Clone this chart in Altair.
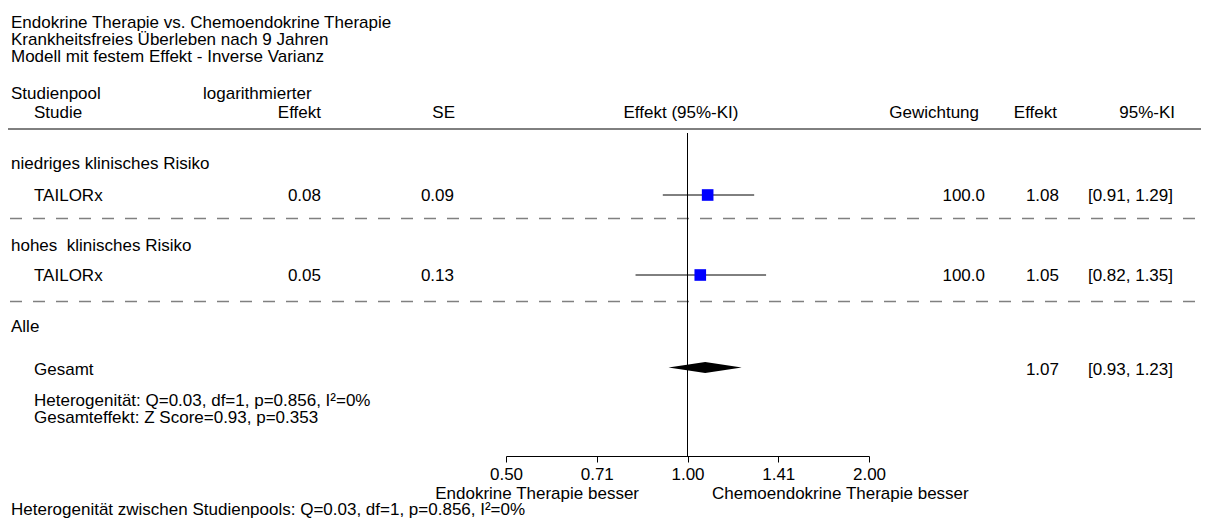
import altair as alt
import pandas as pd

# ---------------- data ----------------
TITLE_LINES = [
    "Endokrine Therapie vs. Chemoendokrine Therapie",
    "Krankheitsfreies Überleben nach 9 Jahren",
    "Modell mit festem Effekt - Inverse Varianz",
]
POOLS = ["niedriges klinisches Risiko", "hohes\u00a0 klinisches Risiko"]
STUDIES = ["TAILORx", "TAILORx"]
LOG_EFFECT = [0.08, 0.05]
SE = [0.09, 0.13]
EFFECT = [1.08, 1.05]
CI_LOW = [0.91, 0.82]
CI_HIGH = [1.29, 1.35]
WEIGHT = [100.0, 100.0]

ALL_LABEL = "Alle"
OVERALL_LABEL = "Gesamt"
OVERALL_EFFECT = [1.07]
OVERALL_LOW = [0.93]
OVERALL_HIGH = [1.23]
HET_TEXT = "Heterogenität: Q=0.03, df=1, p=0.856, I²=0%"
OVERALL_TEXT = "Gesamteffekt: Z Score=0.93, p=0.353"
BETWEEN_TEXT = "Heterogenität zwischen Studienpools: Q=0.03, df=1, p=0.856, I²=0%"

TICKS = [0.5, 0.7071, 1.0, 1.4142, 2.0]
LEFT_LABEL = "Endokrine Therapie besser"
RIGHT_LABEL = "Chemoendokrine Therapie besser"

# ---------------- layout ----------------
W, H = 1193, 510
FONT = "Liberation Sans"
FS = 17
X_RANGE = [498, 861]
AXIS_Y = 448
POOL_Y = [156, 238]
STUDY_Y = [187, 267]
DASH_Y = [210.5, 293.5]
ALL_Y = 319
OVERALL_Y = 359.5
DIAMOND_HALF = 5.5

xscale = alt.Scale(type="log", base=2, domain=[0.5, 2.0], range=X_RANGE, nice=False)
xaxis = alt.Axis(
    values=TICKS, format=".2f", title=None, grid=False,
    domainColor="black", domainWidth=1, tickColor="black", tickWidth=1, tickSize=6,
    labelFont=FONT, labelFontSize=FS, labelColor="black", labelPadding=4,
    labelFlush=False, labelOverlap=False, offset=AXIS_Y - H,
)

ONE = alt.Data(values=[{}])


def txt(s, x, y, align="left"):
    return alt.Chart(ONE).mark_text(
        text=s, align=align, baseline="middle", font=FONT, fontSize=FS, color="black"
    ).encode(x=alt.value(x), y=alt.value(y))


layers = []

for i, line in enumerate(TITLE_LINES):
    layers.append(txt(line, 3, 15 + 17 * i))

layers += [
    txt("Studienpool", 3, 86),
    txt("Studie", 26, 105),
    txt("logarithmierter", 195, 86),
    txt("Effekt", 313, 105, "right"),
    txt("SE", 447, 105, "right"),
    txt("Effekt (95%-KI)", 673, 105, "center"),
    txt("Gewichtung", 971, 105, "right"),
    txt("Effekt", 1049, 105, "right"),
    txt("95%-KI", 1167, 105, "right"),
]

layers.append(
    alt.Chart(ONE).mark_rule(color="black", strokeWidth=1).encode(
        x=alt.value(0), x2=alt.value(W), y=alt.value(121)
    )
)
for dy in DASH_Y:
    layers.append(
        alt.Chart(ONE).mark_rule(color="#808080", strokeWidth=1.5, strokeDash=[12, 11]).encode(
            x=alt.value(2), x2=alt.value(W), y=alt.value(dy)
        )
    )

for i in range(len(STUDIES)):
    ty = STUDY_Y[i] + 1
    layers += [
        txt(POOLS[i], 3, POOL_Y[i]),
        txt(STUDIES[i], 26, ty),
        txt(f"{LOG_EFFECT[i]:.2f}", 313, ty, "right"),
        txt(f"{SE[i]:.2f}", 446, ty, "right"),
        txt(f"{WEIGHT[i]:.1f}", 977, ty, "right"),
        txt(f"{EFFECT[i]:.2f}", 1051, ty, "right"),
        txt(f"[{CI_LOW[i]:.2f}, {CI_HIGH[i]:.2f}]", 1165, ty, "right"),
    ]

layers += [
    txt(ALL_LABEL, 3, ALL_Y),
    txt(OVERALL_LABEL, 26, 362),
    txt(f"{OVERALL_EFFECT[0]:.2f}", 1051, 362, "right"),
    txt(f"[{OVERALL_LOW[0]:.2f}, {OVERALL_HIGH[0]:.2f}]", 1165, 362, "right"),
    txt(HET_TEXT, 26, 393),
    txt(OVERALL_TEXT, 26, 410),
    txt(LEFT_LABEL, 631, 485.5, "right"),
    txt(RIGHT_LABEL, 704, 485.5, "left"),
    txt(BETWEEN_TEXT, 3, 501.5),
]

layers.append(
    alt.Chart(ONE).mark_rule(color="black", strokeWidth=1).encode(
        x=alt.X(datum=1.0, type="quantitative", scale=xscale, axis=xaxis),
        y=alt.value(125), y2=alt.value(AXIS_Y),
    )
)

study_df = pd.DataFrame({
    "effect": EFFECT, "low": CI_LOW, "high": CI_HIGH, "ypos": STUDY_Y,
})
layers.append(
    alt.Chart(study_df).mark_rule(color="black", strokeWidth=1).encode(
        x=alt.X("low:Q", scale=xscale, axis=xaxis),
        x2="high:Q",
        y=alt.Y("ypos:Q", scale=None, axis=None),
    )
)
layers.append(
    alt.Chart(study_df).mark_square(size=135, color="#0000ff", filled=True, opacity=1).encode(
        x=alt.X("effect:Q", scale=xscale, axis=xaxis),
        y=alt.Y("ypos:Q", scale=None, axis=None),
    )
)

dia_df = pd.DataFrame({
    "x": [OVERALL_LOW[0], OVERALL_EFFECT[0], OVERALL_HIGH[0]],
    "ytop": [OVERALL_Y, OVERALL_Y - DIAMOND_HALF, OVERALL_Y],
    "ybot": [OVERALL_Y, OVERALL_Y + DIAMOND_HALF, OVERALL_Y],
})
layers.append(
    alt.Chart(dia_df).mark_area(color="black", opacity=1, interpolate="linear").encode(
        x=alt.X("x:Q", scale=xscale, axis=xaxis),
        y=alt.Y("ytop:Q", scale=None, axis=None),
        y2="ybot:Q",
    )
)

chart = alt.layer(*layers).properties(
    width=W, height=H, padding=0, background="white",
    autosize=alt.AutoSizeParams(type="none"),
).configure_view(strokeWidth=0, stroke="transparent")

chart.save("out.html", embed_options={"renderer": "svg", "actions": False})
